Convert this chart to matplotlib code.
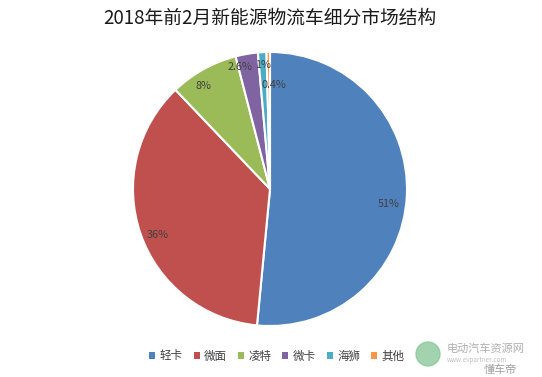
import matplotlib
matplotlib.use("Agg")
import matplotlib.pyplot as plt
from matplotlib.patches import Patch, Circle
import numpy as np

plt.rcParams['font.family'] = ['Noto Sans CJK SC', 'DejaVu Sans']

title = "2018年前2月新能源物流车细分市场结构"
categories = ["轻卡", "微面", "凌特", "微卡", "海狮", "其他"]
values = [51, 36, 8, 2.6, 1, 0.4]
value_labels = ["51%", "36%", "8%", "2.6%", "1%", "0.4%"]
colors = ["#4F81BD", "#C0504D", "#9BBB59", "#8064A2", "#4BACC6", "#F79646"]

W, H = 542, 377
fig = plt.figure(figsize=(W / 100, H / 100), dpi=100)
fig.patch.set_facecolor("white")

cx, cy, r = 270, 189, 137
ax = fig.add_axes([(cx - r) / W, (H - cy - r) / H, 2 * r / W, 2 * r / H])
wedges, _ = ax.pie(values, colors=colors, startangle=90, counterclock=False,
                   wedgeprops=dict(edgecolor="white", linewidth=1.5))
ax.set_xlim(-1, 1)
ax.set_ylim(-1, 1)
ax.set_aspect("auto")
ax.axis("off")

# label radii / small offsets (Excel best-fit placement)
radii = [0.87, 0.87, 0.86, 0.88, 0.89, 0.76]
dxs = [0.0, 0.0, -0.07, -0.07, 0.0, 0.04]
dys = [-0.07, -0.05, 0.0, 0.02, 0.02, 0.0]
for w, lab, rr, dx, dy in zip(wedges, value_labels, radii, dxs, dys):
    ang = np.deg2rad((w.theta1 + w.theta2) / 2)
    ax.text(rr * np.cos(ang) + dx, rr * np.sin(ang) + dy, lab, ha="center", va="center",
            fontsize=7.8, color="#404040")

fig.text(270 / W, 1 - 18 / H, title, ha="center", va="center", fontsize=13.5, color="#1a1a1a")

handles = [Patch(facecolor=c, edgecolor="none") for c in colors]
leg = fig.legend(handles, categories, loc="center", bbox_to_anchor=(277 / W, 1 - 356 / H),
                 ncol=6, frameon=False, fontsize=8.3, handlelength=0.5, handleheight=0.5,
                 handletextpad=0.4, columnspacing=0.95, labelcolor="#404040")

# watermark
wm = fig.add_axes([0, 0, 1, 1], zorder=-1)
wm.set_xlim(0, W)
wm.set_ylim(H, 0)
wm.axis("off")
wm.add_patch(Circle((428, 354), 12, color="#8cc79a", alpha=0.8))
wm.text(447, 349, "电动汽车资源网", fontsize=8, color="#b0b0b0", va="center")
wm.text(447, 360, "www.evpartner.com", fontsize=4.5, color="#c0c0c0", va="center")
wm.text(500, 370, "懂车帝", fontsize=8, color="#a0a0a0", va="center", ha="center")

fig.savefig("out.png", dpi=100, facecolor="white")
